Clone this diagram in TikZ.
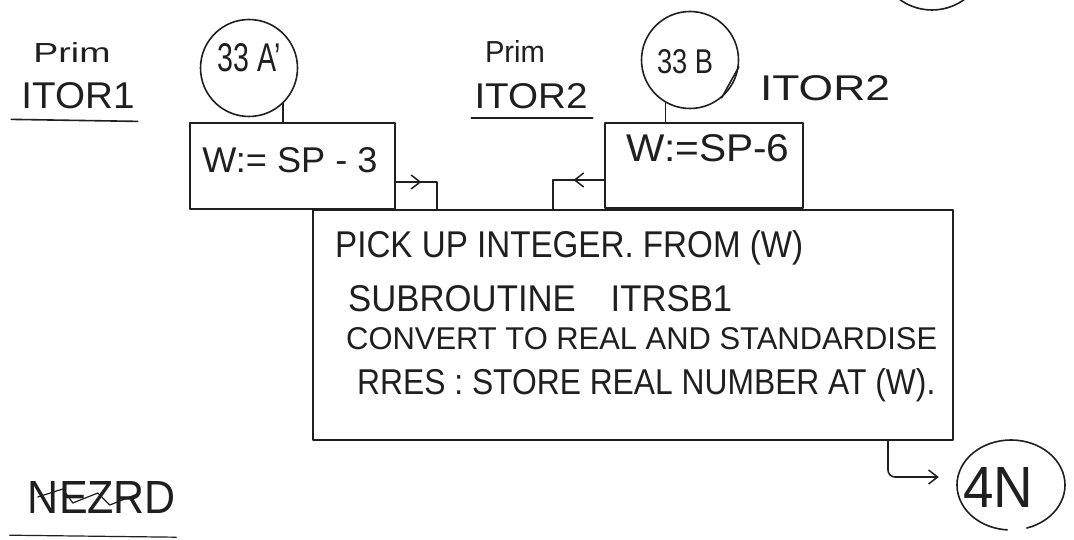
\documentclass[tikz,border=0pt]{standalone}
\usepackage{fontspec}
\setmainfont{Liberation Sans}
\usetikzlibrary{arrows.meta,calc,shapes.geometric}
\newcommand{\fitwh}[3]{\resizebox{#1}{#2}{#3}}
\begin{document}
\begin{tikzpicture}[x=1pt,y=-1pt,
  pen/.style={line width=1.6pt,line cap=round,line join=round,draw=black!88},
  txt/.style={inner sep=0pt,text=black!88},
  bx/.style={pen,rectangle,inner sep=0pt},
  circ/.style={pen,circle,inner sep=0pt},
  tip/.style={-{Straight Barb[length=9pt,width=14pt,line width=1.5pt]}}]
\useasboundingbox[fill=white] (0,0) rectangle (1074,540);
% left header
\node[txt] (prim1) at (72,53) {\fitwh{77pt}{20pt}{Prim}};
\node[txt] (itor1) at (78,96) {\fitwh{113pt}{26pt}{ITOR1}};
\draw[pen] ($(itor1.south west)+(-10,10)$) -- ($(itor1.south east)+(3,12)$);
% circle 33A and box
\node[circ,minimum size=97pt] (cA) at (249,68) {};
\node[txt] (tA) at (249,58) {\fitwh{63pt}{28pt}{33 A'}};
\node[bx,minimum width=205pt,minimum height=86pt] (bA) at (292.5,166) {};
\node[txt] (wA) at (290,160) {\fitwh{175pt}{25pt}{W:= SP - 3}};
\draw[pen] (cA.-46) -- (cA.-46 |- bA.north);
% middle header
\node[txt] (prim2) at (515,52) {\fitwh{60pt}{22pt}{Prim}};
\node[txt] (itor2) at (531,96) {\fitwh{113pt}{25pt}{ITOR2}};
\draw[pen] ($(itor2.south west)+(-3,9)$) -- ($(itor2.south east)+(5,9)$);
% circle 33B and box
\node[circ,minimum size=97pt] (cB) at (690,60) {};
\node[txt] (tB) at (685,62) {\fitwh{56pt}{24pt}{33 B}};
\draw[pen] (cB.-50) -- (cB.-8);
\node[txt] (itor2r) at (825,88) {\fitwh{130pt}{25pt}{ITOR2}};
\node[bx,minimum width=198pt,minimum height=85pt] (bB) at (704,165.5) {};
\node[txt] (wB) at (708,148) {\fitwh{163pt}{27pt}{W:=SP-6}};
\draw[pen] (cB.-120) -- (cB.-120 |- bB.north);
% top-right partial circle
\begin{scope}
\clip (0,0) rectangle (1074,540);
\draw[pen] (932,-45) circle[radius=55];
\end{scope}
% main box
\node[bx,minimum width=640pt,minimum height=230pt] (main) at (633,325) {};
\node[txt,anchor=west] (l1) at (335,248) {\fitwh{468pt}{27pt}{PICK UP INTEGER. FROM (W)}};
\node[txt,anchor=west] (l2) at (348,299) {\fitwh{384pt}{26pt}{SUBROUTINE\quad ITRSB1}};
\node[txt,anchor=west] (l3) at (346,339) {\fitwh{591pt}{22pt}{CONVERT TO REAL AND STANDARDISE}};
\node[txt,anchor=west] (l4) at (357,385) {\fitwh{578pt}{26pt}{RRES : STORE REAL NUMBER AT (W).}};
% flow from SP-3 to main
\coordinate (a1) at (437,182);
\draw[pen] (bA.east |- a1) -- (a1) -- (a1 |- main.north);
\draw[pen,tip] (bA.east |- a1) -- ($(bA.east |- a1)!0.62!(a1)$);
% flow from SP-6 to main
\coordinate (a2) at (553,180);
\draw[pen] (bB.west |- a2) -- (a2) -- (a2 |- main.north);
\draw[pen,tip] (bB.west |- a2) -- ($(bB.west |- a2)!0.6!(a2)$);
% 4N connector
\node[ellipse,inner sep=0pt,minimum width=108pt,minimum height=90pt] (c4N) at (1011,485) {};
\draw[pen] ($(c4N.center)+(-73:54pt and 45pt)$) arc[start angle=-73,end angle=266,x radius=54pt,y radius=45pt];
\node[txt] (t4N) at (998,487) {\fitwh{70pt}{40pt}{4N}};
\coordinate (k) at (888,477);
\draw[pen,tip,rounded corners=7pt,shorten >=18pt] (main.south -| k) -- (k) -- (c4N.west |- k);
% signature (crossed out)
\node[txt] (sig) at (102,497) {\fitwh{148pt}{32pt}{NEZRD}};
\draw[pen,line width=1.2pt] ($(sig.south west)+(-18,22)$) -- ($(sig.south east)+(0,24)$);
\draw[pen,line width=1.2pt] ($(sig.west)+(10,0)$) -- ++(25,-8) -- ++(10,14) -- ++(25,-10) -- ++(12,12) -- ++(30,-12);
\end{tikzpicture}
\end{document}
